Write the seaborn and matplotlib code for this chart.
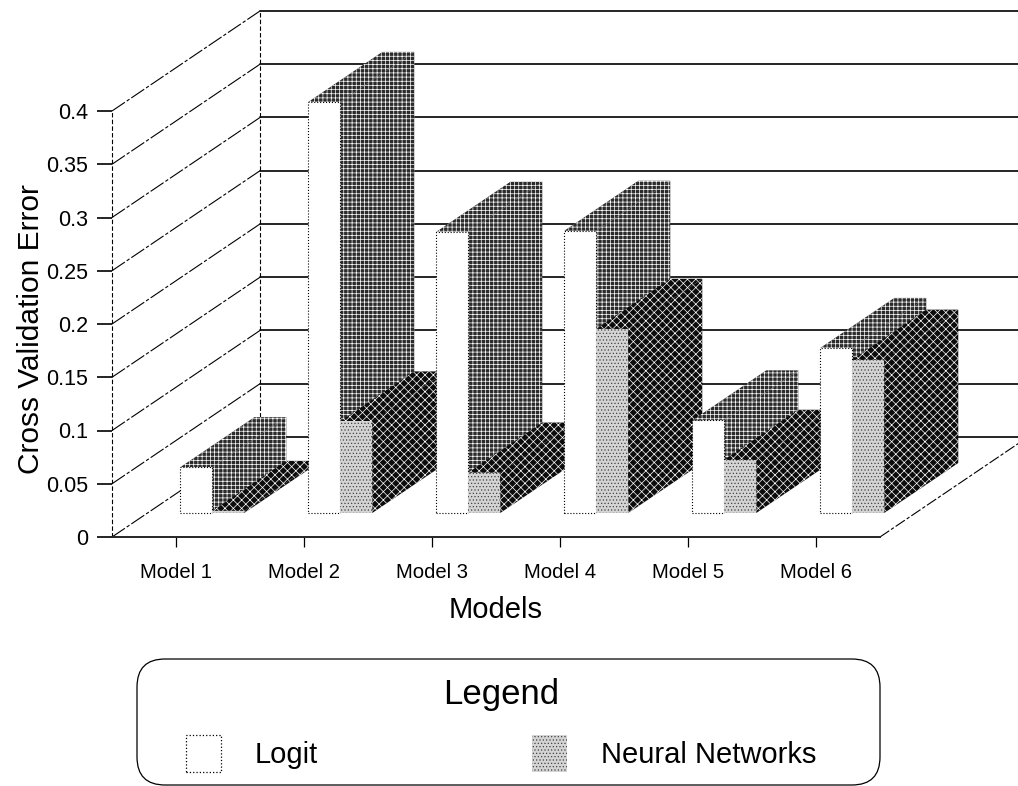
import pandas as pd
import seaborn as sns
import matplotlib.pyplot as plt
from matplotlib.patches import FancyBboxPatch, Patch, Polygon
from matplotlib.transforms import IdentityTransform

models = ['Model 1', 'Model 2', 'Model 3', 'Model 4', 'Model 5', 'Model 6']
logit_err = [0.043, 0.386, 0.264, 0.265, 0.087, 0.155]
nn_err = [0.002, 0.086, 0.038, 0.173, 0.050, 0.144]
y_ticks = [0, 0.05, 0.1, 0.15, 0.2, 0.25, 0.3, 0.35, 0.4]
y_labels = ['0', '0.05', '0.1', '0.15', '0.2', '0.25', '0.3', '0.35', '0.4']

# the fake 3d box, depth in data units (categories / error)
box_dx = 1.156
box_dy = 0.0939
bar_start = 0.24
bar_depth = 0.5

sns.set_style('white')
plt.rcParams['font.family'] = ['Liberation Sans', 'DejaVu Sans']
plt.rcParams['hatch.linewidth'] = 0.5
plt.rcParams['text.color'] = 'black'
plt.rcParams['axes.labelcolor'] = 'black'
plt.rcParams['xtick.color'] = 'black'
plt.rcParams['ytick.color'] = 'black'

df = pd.DataFrame({
    'Models': models * 2,
    'Error': logit_err + nn_err,
    'Method': ['Logit'] * 6 + ['Neural Networks'] * 6,
})

W, H = 1018, 786
fig = plt.figure(figsize=(W / 100, H / 100), dpi=100)
ax = fig.add_axes([112 / W, 1 - 537 / H, 768 / W, 426 / H])

sns.barplot(
    data=df, x='Models', y='Error', hue='Method',
    width=0.5, gap=0, saturation=1, legend=False,
    palette={'Logit': 'white', 'Neural Networks': '#d4d4d4'},
    ax=ax,
)
ax.set_xlim(-0.5, 5.5)
ax.set_ylim(0, 0.4)


def side_and_top(x0, x1, y0, y1, shade, hatch, z):
    # right side of a bar and its top, going back by bar_depth
    dx, dy = box_dx * bar_depth, box_dy * bar_depth
    top = [(x0, y1), (x1, y1), (x1 + dx, y1 + dy), (x0 + dx, y1 + dy)]
    side = [(x1, y0), (x1 + dx, y0 + dy), (x1 + dx, y1 + dy), (x1, y1)]
    for pts in (top, side):
        ax.add_patch(Polygon(pts, closed=True, facecolor=shade, edgecolor='white',
                             hatch=hatch, linewidth=0, zorder=z, clip_on=False))


styles = {
    0: {'shade': '#2b2b2b', 'hatch': '++++'},
    1: {'shade': '#0c0c0c', 'hatch': 'xxxx'},
}
for c, container in enumerate(ax.containers):
    for i, bar in enumerate(container):
        z = 10 + i * 4 + c * 2
        x0 = bar.get_x() + box_dx * bar_start + 0.006
        y0 = box_dy * bar_start
        bar.set_x(x0)
        bar.set_y(y0)
        bar.set_zorder(z + 1)
        bar.set_clip_on(False)
        if c == 0:
            bar.set_edgecolor('black')
            bar.set_linewidth(0.8)
            bar.set_linestyle(':')
        else:
            bar.set_edgecolor('#444444')
            bar.set_hatch('.....')
            bar.set_linewidth(0)
        side_and_top(x0, x0 + bar.get_width(), y0, y0 + bar.get_height(),
                     styles[c]['shade'], styles[c]['hatch'], z)

# box lines: back wall, left wall, floor
xl, xr = ax.get_xlim()
for t in y_ticks:
    ax.plot([xl + box_dx, xr + box_dx], [t + box_dy, t + box_dy], color='black',
            lw=1.2, zorder=2, clip_on=False)
    ax.plot([xl, xl + box_dx], [t, t + box_dy], color='black', lw=0.8,
            ls=(0, (14, 2, 3, 2)), zorder=2, clip_on=False)
ax.plot([xl, xl], [0, 0.4], color='black', lw=0.8, ls=(0, (4, 2)), zorder=2, clip_on=False)
ax.plot([xl + box_dx, xl + box_dx], [box_dy, 0.4 + box_dy], color='black', lw=0.8,
        ls=(0, (4, 2)), zorder=2, clip_on=False)
ax.plot([xr, xr + box_dx], [0, box_dy], color='black', lw=0.8,
        ls=(0, (10, 2, 3, 2)), zorder=2, clip_on=False)

sns.despine(ax=ax, left=True)
ax.spines['bottom'].set_linewidth(1.4)
ax.set_yticks(y_ticks)
ax.set_yticklabels(y_labels, fontsize=15.5)
ax.set_xticks(range(len(models)))
ax.set_xticklabels(models, fontsize=14.6)
ax.tick_params(axis='y', length=11, width=1.2, pad=6, left=True)
ax.tick_params(axis='x', length=7, width=0.9, pad=12, bottom=True)
ax.set_xlabel('Models', fontsize=21, labelpad=10)
ax.set_ylabel('Cross Validation Error', fontsize=21.5, labelpad=1, y=0.488)

# legend box is cut by the bottom of the page like in the scan
fig.add_artist(FancyBboxPatch((137, 1), 743, 126, boxstyle='round,pad=0,rounding_size=28',
                              facecolor='white', edgecolor='black', linewidth=0.9,
                              transform=IdentityTransform()))
handles = [
    Patch(facecolor='white', edgecolor='black', linestyle=':', linewidth=0.9, label='Logit'),
    Patch(facecolor='#d4d4d4', edgecolor='#444444', hatch='.....', linewidth=0, label='Neural Networks'),
]
leg = fig.legend(
    handles=handles, title='Legend', ncols=2, fontsize=21, title_fontsize=25,
    loc='lower left', bbox_to_anchor=(186 / W, 14 / H, 630 / W, 112 / H), mode='expand',
    borderaxespad=0, borderpad=0, handlelength=1.2, handleheight=1.6,
    handletextpad=1.15, labelspacing=0.82, frameon=False,
)

fig.savefig('out.png', dpi=100)
